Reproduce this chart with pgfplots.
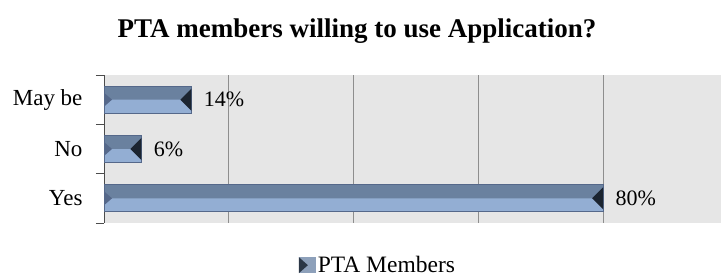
\documentclass[border=0pt]{standalone}
\usepackage{pgfplots}
\pgfplotsset{compat=1.18}
\usepackage{fontspec}
\setmainfont{Liberation Serif}
\definecolor{bglight}{HTML}{E6E6E6}
\definecolor{barlight}{HTML}{93AED3}
\definecolor{bardark}{HTML}{6A819F}
\definecolor{baredge}{HTML}{55688A}
\definecolor{tipdark}{HTML}{1B2430}
\definecolor{gridc}{HTML}{8E8E8E}
\pgfdeclareplotmark{endtri}{%
  \pgfpathmoveto{\pgfqpoint{0pt}{-11pt}}%
  \pgfpathlineto{\pgfqpoint{0pt}{11pt}}%
  \pgfpathlineto{\pgfqpoint{-11pt}{0pt}}%
  \pgfpathclose\pgfusepathqfill}
\pgfdeclareplotmark{starttri}{%
  \pgfpathmoveto{\pgfqpoint{0pt}{-7pt}}%
  \pgfpathlineto{\pgfqpoint{0pt}{7pt}}%
  \pgfpathlineto{\pgfqpoint{8pt}{0pt}}%
  \pgfpathclose\pgfusepathqfill}
\begin{document}
\begin{tikzpicture}
\useasboundingbox (0,0) rectangle (721pt,278pt);
\begin{axis}[
  at={(104pt,55pt)}, anchor=south west,
  width=617pt, height=148pt, scale only axis,
  xmin=0, xmax=98.9, ymin=-0.5, ymax=2.5,
  axis lines*=left,
  x axis line style={draw=none},
  y axis line style={draw=gray!60!black, line width=0.8pt},
  xtick={20,40,60,80}, xticklabels={},
  xmajorgrids, major x grid style={gridc, line width=0.8pt},
  x tick style={draw=none},
  ytick={0,1,2}, yticklabels={Yes,No,May be},
  major y tick style={draw=none},
  minor ytick={-0.5,0.5,1.5,2.5},
  minor y tick style={draw=gray!60!black, line width=0.8pt},
  tick align=outside, minor tick length=8pt, major tick length=0pt,
  yticklabel style={font=\fontsize{23}{27}\selectfont, xshift=-18pt},
  axis background/.style={fill=bglight},
  title={PTA members willing to use Application?},
  title style={at={(0.41,1.215)}, anchor=base, font=\bfseries\fontsize{27}{31}\selectfont},
  legend style={at={(0.444,-0.285)}, anchor=center, draw=none, fill=none,
    font=\fontsize{23.5}{27}\selectfont},
  legend image code/.code={%
    \fill[barlight!70!gray] (0pt,-8pt) rectangle (17pt,8pt);
    \fill[tipdark!80!bardark] (0pt,-8pt)--(0pt,8pt)--(9pt,0pt)--cycle;},
]
\addplot[xbar, bar width=27pt, bar shift=0pt, fill=barlight, draw=none,
  point meta=x, nodes near coords={\pgfmathprintnumber{\pgfplotspointmeta}\%},
  /pgf/number format/assume math mode=true,
  nodes near coords align={horizontal},
  nodes near coords style={anchor=west, xshift=9pt, font=\fontsize{22}{26}\selectfont, black}]
  coordinates {(80,0) (6,1) (14,2)};
\addlegendentry{PTA Members}
\addplot[xbar, bar width=13.5pt, bar shift=6.75pt, fill=bardark, draw=none, forget plot]
  coordinates {(80,0) (6,1) (14,2)};
\addplot[xbar, bar width=27pt, bar shift=0pt, fill=none, draw=baredge, line width=0.7pt, forget plot]
  coordinates {(80,0) (6,1) (14,2)};
\addplot[only marks, mark=endtri, color=tipdark, forget plot]
  coordinates {(80,0) (6,1) (14,2)};
\addplot[only marks, mark=starttri, color=baredge, forget plot]
  coordinates {(0,0) (0,1) (0,2)};
\end{axis}
\end{tikzpicture}
\end{document}
